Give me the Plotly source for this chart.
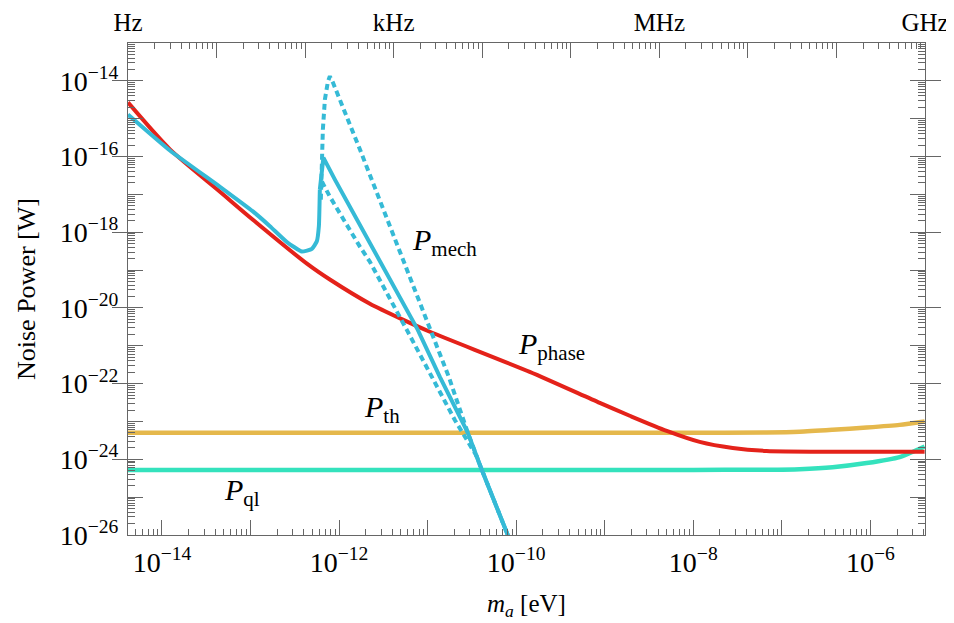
import numpy as np
import plotly.graph_objects as go

# ---------------- data (log10 values) ----------------
# x: log10(m_a / eV), y: log10(P / W)
phase_logx = [-14.384, -13.910, -13.345, -12.973, -12.363, -12.104, -11.652, -11.280,
              -10.975, -9.847, -9.056, -8.718, -8.300, -7.928, -7.555, -7.172, -6.427, -5.388]
phase_logy = [-14.57, -15.81, -16.93, -17.67, -18.83, -19.25, -19.89, -20.31,
              -20.63, -21.69, -22.51, -22.85, -23.25, -23.54, -23.70, -23.78, -23.80, -23.80]

# mechanical noise, low-frequency branch (smooth) and resonance / fall-off (sharp)
mech_low_logx = [-14.384, -13.910, -13.345, -12.973, -12.781, -12.589, -12.420, -12.307,
                 -12.251, -12.228, -12.217]
mech_low_logy = [-14.89, -15.84, -16.80, -17.45, -17.84, -18.26, -18.51, -18.44,
                 -18.24, -17.84, -16.87]
mech_logx = [-12.217, -12.194, -12.177, -12.047, -11.551, -11.111, -10.862, -10.546,
             -10.388, -10.095, -10.027]
mech_logy = [-16.87, -16.29, -16.03, -16.61, -18.72, -20.58, -21.82, -23.30,
             -24.28, -26.00, -26.40]

mech_hi_logx = [-12.206, -12.194, -12.183, -12.160, -12.126, -12.104, -12.070, -11.765,
                -11.280, -10.975, -10.761, -10.546, -10.388, -10.095, -10.027]
mech_hi_logy = [-17.14, -16.21, -15.29, -14.49, -14.02, -13.88, -14.04, -15.81,
                -18.72, -20.58, -21.82, -23.30, -24.28, -26.00, -26.40]

mech_lo_logx = [-12.194, -12.177, -12.104, -11.765, -11.652, -11.235, -10.953, -10.693,
                -10.456, -10.388, -10.095, -10.027]
mech_lo_logy = [-16.66, -16.74, -17.06, -18.38, -18.78, -20.58, -21.82, -22.96,
                -23.88, -24.28, -26.00, -26.40]

th_logx = [-14.384, -8.0, -7.172, -6.799, -6.427, -6.043, -5.670, -5.388]
th_logy = [-23.30, -23.30, -23.29, -23.27, -23.22, -23.16, -23.09, -23.00]

ql_logx = [-14.384, -8.0, -7.172, -6.799, -6.427, -6.043, -5.670, -5.388]
ql_logy = [-24.28, -24.28, -24.275, -24.26, -24.21, -24.10, -23.94, -23.66]

x_label_decades = [-14, -12, -10, -8, -6]            # labelled bottom ticks (eV)
x_plain_decades = [-13, -11, -9, -7]                 # unlabelled bottom major ticks
y_label_decades = [-26, -24, -22, -20, -18, -16, -14]
y_plain_decades = [-25, -23, -21, -19, -17, -15, -13]
f_label_decades = [0, 3, 6, 9]                       # top axis (Hz)
f_label_text = ["Hz", "kHz", "MHz", "GHz"]
f_plain_decades = [1, 2, 4, 5, 7, 8]

curve_labels = [("<i>P</i><sub>mech</sub>", -11.201, -18.25),
                ("<i>P</i><sub>phase</sub>", -10.005, -21.0),
                ("<i>P</i><sub>th</sub>", -11.743, -22.67),
                ("<i>P</i><sub>ql</sub>", -13.323, -24.86)]

EV_PER_HZ = 4.135667e-15
x_range = [np.log10(EV_PER_HZ * 1.0), np.log10(EV_PER_HZ * 1e9)]
f_range = [0, 9]
y_range = [-26, -13]

# ---------------- styling ----------------
RED = "#e4221a"
BLUE = "#35bad6"
GOLD = "#e5b84c"
TEAL = "#34e2bd"
FONT = "Liberation Serif"
AX = "#666666"

def p(v):
    return [10.0 ** a for a in v]

fig = go.Figure()
fig.add_trace(go.Scatter(x=p(th_logx), y=p(th_logy), mode="lines",
                         line=dict(color=GOLD, width=4.5, shape="spline", smoothing=0.6)))
fig.add_trace(go.Scatter(x=p(ql_logx), y=p(ql_logy), mode="lines",
                         line=dict(color=TEAL, width=4.5, shape="spline", smoothing=0.6)))
fig.add_trace(go.Scatter(x=p(phase_logx), y=p(phase_logy), mode="lines",
                         line=dict(color=RED, width=4, shape="spline", smoothing=0.7)))
fig.add_trace(go.Scatter(x=p(mech_hi_logx), y=p(mech_hi_logy), mode="lines",
                         line=dict(color=BLUE, width=4, dash="6px,4px")))
fig.add_trace(go.Scatter(x=p(mech_lo_logx), y=p(mech_lo_logy), mode="lines",
                         line=dict(color=BLUE, width=4, dash="6px,4px")))
fig.add_trace(go.Scatter(x=p(mech_low_logx), y=p(mech_low_logy), mode="lines",
                         line=dict(color=BLUE, width=4, shape="spline", smoothing=0.4)))
fig.add_trace(go.Scatter(x=p(mech_logx), y=p(mech_logy), mode="lines",
                         line=dict(color=BLUE, width=4)))

def minor_vals(lo, hi):
    out = []
    for d in range(int(np.floor(lo)) - 1, int(np.ceil(hi)) + 1):
        for m in range(2, 10):
            v = np.log10(m) + d
            if lo <= v <= hi:
                out.append(10.0 ** v)
    return out

def sup(e):
    return "10<sup>\u2212%d</sup>" % (-e)

# invisible carriers so that every extra tick axis is drawn
ghost = dict(mode="none", hoverinfo="skip", showlegend=False)
for xa in ["x2", "x3", "x4", "x5", "x6"]:
    if xa in ("x2", "x4", "x6"):
        gx = [1.0, 1e9]
    else:
        gx = [1e-10, 1e-9]
    fig.add_trace(go.Scatter(x=gx, y=[1e-20, 1e-20], xaxis=xa, yaxis="y", **ghost))
for ya in ["y2", "y3"]:
    fig.add_trace(go.Scatter(x=[1e-10, 1e-9], y=[1e-20, 1e-20], xaxis="x", yaxis=ya, **ghost))

common = dict(showgrid=False, zeroline=False, automargin=False, tickwidth=1, tickcolor=AX,
              ticks="inside", tickmode="array")
frame = dict(showline=True, linecolor=AX, linewidth=1.2)
plain = dict(common, showline=False, showticklabels=False)

fig.update_layout(
    width=946, height=615, autosize=False,
    margin=dict(l=120, r=29, t=35, b=88),
    paper_bgcolor="white", plot_bgcolor="white",
    showlegend=False,
    font=dict(family=FONT, color="black", size=26),
    # bottom (eV)
    xaxis=dict(common, **frame, type="log", range=x_range, mirror=False, ticklen=15,
               tickvals=p(x_label_decades), ticktext=[sup(d) for d in x_label_decades],
               tickfont=dict(family=FONT, size=28), ticklabelstandoff=2),
    xaxis3=dict(plain, type="log", range=x_range, overlaying="x", side="bottom", anchor="y",
                ticklen=15, tickvals=p(x_plain_decades)),
    xaxis5=dict(plain, type="log", range=x_range, overlaying="x", side="bottom", anchor="y",
                ticklen=6, tickvals=minor_vals(*x_range)),
    # top (frequency)
    xaxis2=dict(common, **frame, type="log", range=f_range, overlaying="x", side="top",
                anchor="y", ticklen=15,
                tickvals=p(f_label_decades), ticktext=f_label_text,
                tickfont=dict(family=FONT, size=25), ticklabelstandoff=1),
    xaxis4=dict(plain, type="log", range=f_range, overlaying="x", side="top", anchor="y",
                ticklen=15, tickvals=p(f_plain_decades)),
    xaxis6=dict(plain, type="log", range=f_range, overlaying="x", side="top", anchor="y",
                ticklen=6, tickvals=minor_vals(*f_range)),
    # left / right (W)
    yaxis=dict(common, **frame, type="log", range=y_range, mirror="allticks", ticklen=15,
               tickvals=p(y_label_decades), ticktext=[sup(d) for d in y_label_decades],
               tickfont=dict(family=FONT, size=28), ticklabelstandoff=3),
    yaxis2=dict(plain, type="log", range=y_range, overlaying="y", side="left", anchor="x",
                mirror="allticks", ticklen=15, tickvals=p(y_plain_decades)),
    yaxis3=dict(plain, type="log", range=y_range, overlaying="y", side="left", anchor="x",
                mirror="allticks", ticklen=7, tickvals=minor_vals(*y_range)),
)

ann = []
ann.append(dict(text="Noise Power [W]", xref="paper", yref="paper", x=0, y=0.5,
                xshift=-102, textangle=-90, showarrow=False,
                xanchor="center", yanchor="middle", font=dict(family=FONT, size=26)))
ann.append(dict(text="<i>m</i><sub><i>a</i></sub> [eV]", xref="paper", yref="paper",
                x=0.5, y=0, yshift=-70, showarrow=False, xanchor="center", yanchor="middle",
                font=dict(family=FONT, size=25)))
for t, lx, ly in curve_labels:
    ann.append(dict(text=t, x=lx, y=ly, xref="x", yref="y", showarrow=False,
                    xanchor="left", yanchor="middle", font=dict(family=FONT, size=30)))
fig.update_layout(annotations=ann)

fig.write_html("out.html")
